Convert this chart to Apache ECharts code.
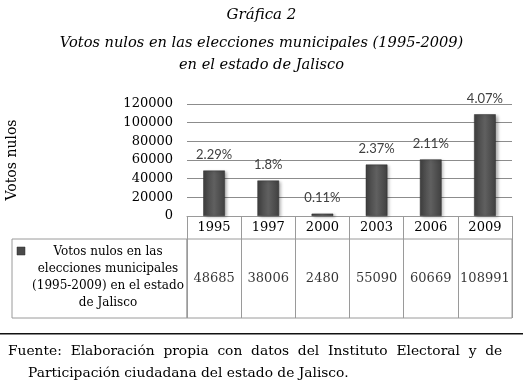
<!DOCTYPE html>
<html>
<head>
<meta charset="utf-8">
<script src="https://cdn.jsdelivr.net/npm/echarts@6/dist/echarts.min.js"></script>
<style>
  html, body { margin: 0; padding: 0; background: #fff; }
  #chart { width: 523px; height: 392px; }
</style>
</head>
<body>
<div id="chart"></div>
<script>
// Gráfica 2 — votos nulos, elecciones municipales Jalisco
const anios = ['1995', '1997', '2000', '2003', '2006', '2009'];
const votosNulos = [48685, 38006, 2480, 55090, 60669, 108991];
const porcentajes = ['2.29%', '1.8%', '0.11%', '2.37%', '2.11%', '4.07%'];
const ticksY = [0, 20000, 40000, 60000, 80000, 100000, 120000];

const serif = '"DejaVu Serif", serif';
const sans = '"Lato", "Liberation Sans", sans-serif';
const lineaGris = '#9a9a9a';

const chart = echarts.init(document.getElementById('chart'));

const barColor = {
  type: 'linear', x: 0, y: 0, x2: 1, y2: 0,
  colorStops: [
    { offset: 0, color: '#404040' },
    { offset: 0.5, color: '#606060' },
    { offset: 1, color: '#404040' },
  ],
};

const option = {
  animation: false,
  title: [
    {
      text: 'Gráfica 2',
      left: 'center', top: 3,
      textStyle: { fontFamily: serif, fontStyle: 'italic', fontWeight: 'normal', fontSize: 15, color: '#000' },
    },
    {
      text: 'Votos nulos en las elecciones municipales (1995-2009)\nen el estado de Jalisco',
      left: 'center', top: 27,
      textStyle: { fontFamily: serif, fontStyle: 'italic', fontWeight: 'normal', fontSize: 14.6, lineHeight: 22, color: '#000' },
    },
  ],
  grid: [
    { left: 187, right: 11, top: 104, height: 112, outerBoundsMode: 'none', containLabel: false },
    { left: 187, right: 11, top: 239, height: 79, show: true, borderColor: lineaGris, borderWidth: 1, outerBoundsMode: 'none', containLabel: false },
  ],
  xAxis: [
    {
      type: 'category',
      gridIndex: 0,
      data: anios,
      axisLine: { show: true, lineStyle: { color: lineaGris } },
      axisTick: { show: true, length: 23, interval: 0, lineStyle: { color: lineaGris } },
      axisLabel: { fontFamily: serif, fontSize: 13, color: '#000', margin: 5, interval: 0 },
    },
    {
      type: 'category',
      gridIndex: 1,
      data: anios,
      axisLine: { show: false },
      axisTick: { show: false },
      axisLabel: { show: false },
      splitLine: { show: true, interval: 0, lineStyle: { color: lineaGris } },
    },
  ],
  yAxis: [
    {
      type: 'value',
      gridIndex: 0,
      min: ticksY[0],
      max: ticksY[ticksY.length - 1],
      interval: ticksY[1] - ticksY[0],
      name: 'Votos nulos',
      nameLocation: 'middle',
      nameGap: 168,
      nameTextStyle: { fontFamily: serif, fontSize: 14, color: '#000' },
      axisLine: { show: false },
      axisTick: { show: false },
      axisLabel: { fontFamily: serif, fontSize: 13, color: '#000', margin: 14, formatter: (v) => String(v) },
      splitLine: { show: true, lineStyle: { color: '#8c8c8c' } },
    },
    {
      type: 'value',
      gridIndex: 1,
      min: 0,
      max: 1,
      show: false,
    },
  ],
  series: [
    {
      type: 'bar',
      xAxisIndex: 0,
      yAxisIndex: 0,
      barWidth: '40%',
      data: votosNulos,
      itemStyle: {
        color: barColor,
        borderColor: '#2e2e2e',
        borderWidth: 0.5,
        shadowBlur: 3,
        shadowOffsetX: 2,
        shadowOffsetY: 1,
        shadowColor: 'rgba(0,0,0,0.3)',
      },
      label: {
        show: true,
        position: 'top',
        distance: 9,
        fontFamily: sans,
        fontSize: 13,
        color: '#404040',
        formatter: (p) => porcentajes[p.dataIndex],
      },
    },
    {
      // valores de la tabla de datos
      type: 'scatter',
      xAxisIndex: 1,
      yAxisIndex: 1,
      symbolSize: 0,
      data: votosNulos.map((v, i) => [anios[i], 0.5, v]),
      label: {
        show: true,
        position: 'inside',
        fontFamily: serif,
        fontSize: 13,
        color: '#000',
        formatter: (p) => String(p.value[2]),
      },
      silent: true,
    },
  ],
  graphic: [
    {
      type: 'rect',
      shape: { x: 12, y: 239, width: 175, height: 79 },
      style: { fill: 'none', stroke: lineaGris, lineWidth: 1 },
    },
    {
      type: 'rect',
      shape: { x: 17, y: 247, width: 8, height: 8 },
      style: { fill: '#4a4a4a', stroke: '#2e2e2e', lineWidth: 0.5 },
    },
    {
      type: 'text',
      x: 108,
      y: 243,
      style: {
        text: 'Votos nulos en las\nelecciones municipales\n(1995-2009) en el estado\nde Jalisco',
        font: '12px ' + serif,
        fill: '#000',
        align: 'center',
        verticalAlign: 'top',
        lineHeight: 17,
      },
    },
    {
      type: 'rect',
      shape: { x: 0, y: 333, width: 523, height: 1.5 },
      style: { fill: '#111' },
    },
    {
      type: 'text',
      x: 8,
      y: 344,
      style: {
        text: 'Fuente:  Elaboración  propia  con  datos  del  Instituto  Electoral  y  de',
        font: '13.8px ' + serif,
        fill: '#000',
        verticalAlign: 'top',
      },
    },
    {
      type: 'text',
      x: 28,
      y: 366,
      style: {
        text: 'Participación ciudadana del estado de Jalisco.',
        font: '13.8px ' + serif,
        fill: '#000',
        verticalAlign: 'top',
      },
    },
  ],
};

chart.setOption(option);
</script>
</body>
</html>
